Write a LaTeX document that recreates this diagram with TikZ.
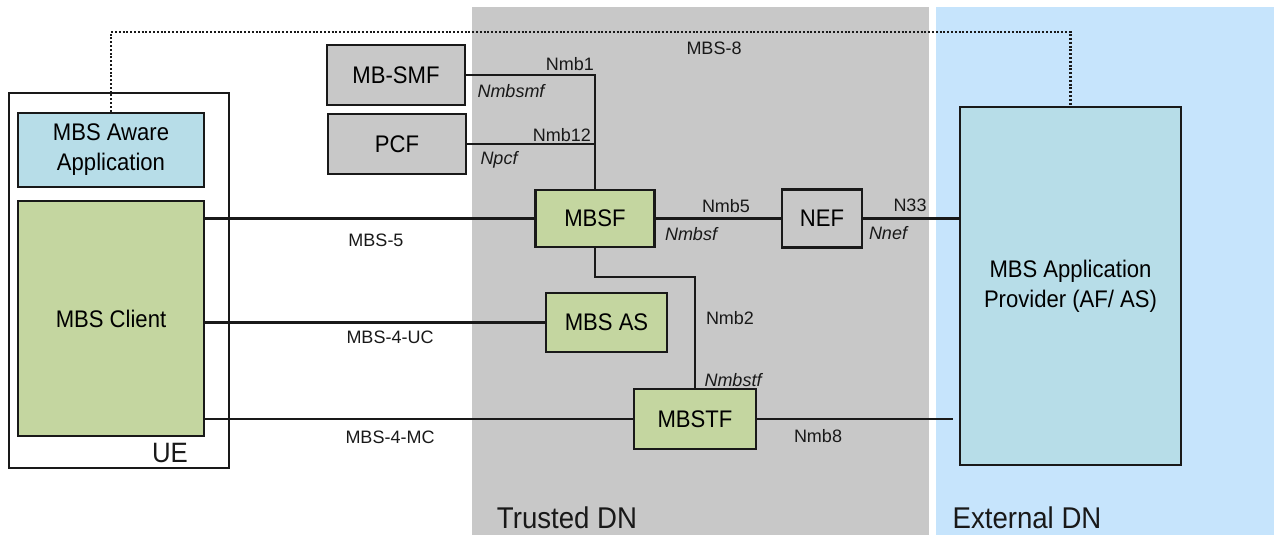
\documentclass[tikz,border=0pt]{standalone}
\usepackage{fontspec}
\setmainfont{Liberation Sans}
\newfontfamily\condfont{Liberation Sans}[FakeStretch=0.92]
\definecolor{trustgray}{RGB}{200,200,200}
\definecolor{extblue}{RGB}{198,228,252}
\definecolor{appblue}{RGB}{183,221,232}
\definecolor{nfgreen}{RGB}{196,214,160}
\definecolor{boxgray}{RGB}{200,200,200}
\definecolor{ink}{RGB}{25,25,25}
\begin{document}
\begin{tikzpicture}[x=1pt,y=-1pt,
  box/.style={draw=ink,line width=2.9pt,inner sep=0pt,align=center,
    font=\condfont\fontsize{24}{30}\selectfont},
  greenbox/.style={box,fill=nfgreen},
  graybox/.style={box,fill=boxgray},
  bluebox/.style={box,fill=appblue},
  conn/.style={draw=ink,line width=2.5pt},
  dotconn/.style={draw=ink,line width=2.4pt,dash pattern=on 2pt off 1.8pt},
  lbl/.style={inner sep=0pt,text=ink,font=\fontsize{18}{20}\selectfont},
  ilbl/.style={lbl,font=\itshape\fontsize{18}{20}\selectfont},
  rlbl/.style={inner sep=0pt,text=ink,font=\condfont\fontsize{30}{32}\selectfont}
]
\useasboundingbox (0,0) rectangle (1274,535);
% regions
\fill[trustgray] (472,7) rectangle (929,535);
\fill[extblue] (936,7) rectangle (1274,535);
\node[rlbl] (trusted) at (567,518) {Trusted DN};
\node[rlbl] (external) at (1027,518) {External DN};

% UE
\node[box,fill=white,minimum width=220pt,minimum height=375pt] (ue) at (119,280.5) {};
\node[rlbl,font=\condfont\fontsize{28}{30}\selectfont] (uelbl) at (170,453) {UE};
\node[bluebox,minimum width=186pt,minimum height=74pt] (aware) at (111,150) {MBS Aware\\Application};
\node[greenbox,minimum width=186pt,minimum height=235pt] (client) at (111,318.5) {MBS Client};

% network functions
\node[graybox,minimum width=138pt,minimum height=60pt] (mbsmf) at (396,75) {MB-SMF};
\node[graybox,minimum width=138pt,minimum height=60pt] (pcf) at (397,144) {PCF};
\node[greenbox,minimum width=119pt,minimum height=57pt] (mbsf) at (595,218.5) {MBSF};
\node[graybox,minimum width=80pt,minimum height=58pt] (nef) at (822,218.5) {NEF};
\node[greenbox,minimum width=121pt,minimum height=59pt] (mbsas) at (606.5,322.5) {MBS AS};
\node[greenbox,minimum width=122pt,minimum height=60pt] (mbstf) at (695,419) {MBSTF};
\node[bluebox,minimum width=221pt,minimum height=358pt] (app) at (1070.5,286) {MBS Application\\Provider (AF/ AS)};

% connectors
\coordinate (dtop) at (111,32);
\draw[dotconn] (aware.north) -- (aware.north |- dtop) -| (app.north);
\draw[conn] (mbsmf.east) -| (mbsf.north);
\draw[conn] (pcf.east) -- (pcf.east -| mbsf.north);
\draw[conn] (client.east |- mbsf.west) -- (mbsf.west);
\draw[conn] (mbsf.east) -- (nef.west);
\draw[conn] (nef.east) -- (nef.east -| app.west);
\coordinate (bend) at (595,277);
\draw[conn] (mbsf.south) -- (bend) -| (mbstf.north);
\draw[conn] (client.east |- mbsas.west) -- (mbsas.west);
\draw[conn] (client.east |- mbstf.west) -- (mbstf.west);
\coordinate (n8end) at (953,419);
\draw[conn] (mbstf.east) -- (n8end);

% labels
\node[lbl] (l8) at (714,48) {MBS-8};
\node[lbl,anchor=east] (lnmb1) at (594,64) {Nmb1};
\node[ilbl] (lnmbsmf) at (511,91) {Nmbsmf};
\node[lbl,anchor=east] (lnmb12) at (591,135) {Nmb12};
\node[ilbl] (lnpcf) at (499,160) {Npcf};
\node[lbl] (l5) at (376,240) {MBS-5};
\node[lbl] (lnmb5) at (726,206) {Nmb5};
\node[ilbl] (lnmbsf) at (691,234) {Nmbsf};
\node[lbl] (ln33) at (910,205) {N33};
\node[ilbl] (lnnef) at (888,233) {Nnef};
\node[lbl] (lnmb2) at (730,318) {Nmb2};
\node[ilbl] (lnmbstf) at (733,380) {Nmbstf};
\node[lbl] (l4uc) at (390,337) {MBS-4-UC};
\node[lbl] (l4mc) at (390,437) {MBS-4-MC};
\node[lbl] (lnmb8) at (818,436) {Nmb8};
\end{tikzpicture}
\end{document}
